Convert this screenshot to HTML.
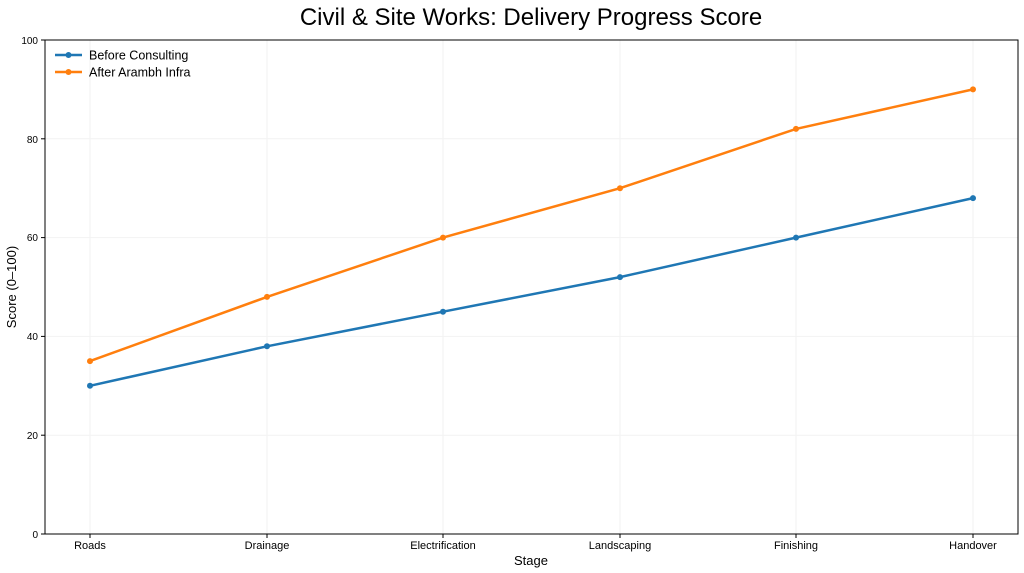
<!DOCTYPE html>
<html><head><meta charset="utf-8"><style>body{margin:0;background:#fff}svg{display:block}text{font-family:"Liberation Sans","DejaVu Sans",sans-serif}</style></head>
<body>
<svg width="1024" height="573" viewBox="0 0 1024 573" xmlns="http://www.w3.org/2000/svg">
<rect width="1024" height="573" fill="#fff"/>
<text x="531" y="25" font-size="24" text-anchor="middle" fill="#000">Civil &amp; Site Works: Delivery Progress Score</text>
<g stroke="#f2f2f2" stroke-width="1">
<line x1="45" x2="1018" y1="435.2" y2="435.2"/><line x1="45" x2="1018" y1="336.4" y2="336.4"/><line x1="45" x2="1018" y1="237.6" y2="237.6"/><line x1="45" x2="1018" y1="138.8" y2="138.8"/>
<line x1="90" x2="90" y1="40" y2="534"/><line x1="267" x2="267" y1="40" y2="534"/><line x1="443" x2="443" y1="40" y2="534"/><line x1="620" x2="620" y1="40" y2="534"/><line x1="796" x2="796" y1="40" y2="534"/><line x1="973" x2="973" y1="40" y2="534"/>
</g>
<rect x="45" y="40" width="973" height="494" fill="none" stroke="#000" stroke-width="1"/>
<g stroke="#000"><line x1="41" x2="45" y1="534" y2="534"/><line x1="41" x2="45" y1="435.2" y2="435.2"/><line x1="41" x2="45" y1="336.4" y2="336.4"/><line x1="41" x2="45" y1="237.6" y2="237.6"/><line x1="41" x2="45" y1="138.8" y2="138.8"/><line x1="41" x2="45" y1="40" y2="40"/>
<line x1="90" x2="90" y1="534" y2="538"/><line x1="267" x2="267" y1="534" y2="538"/><line x1="443" x2="443" y1="534" y2="538"/><line x1="620" x2="620" y1="534" y2="538"/><line x1="796" x2="796" y1="534" y2="538"/><line x1="973" x2="973" y1="534" y2="538"/></g>
<g font-size="10" text-anchor="end" fill="#000"><text x="38" y="538">0</text><text x="38" y="439">20</text><text x="38" y="340">40</text><text x="38" y="241">60</text><text x="38" y="143">80</text><text x="38" y="44">100</text></g>
<g font-size="11" text-anchor="middle" fill="#000"><text x="90" y="549">Roads</text><text x="267" y="549">Drainage</text><text x="443" y="549">Electrification</text><text x="620" y="549">Landscaping</text><text x="796" y="549">Finishing</text><text x="973" y="549">Handover</text></g>
<text x="531" y="565" font-size="13" text-anchor="middle">Stage</text>
<text transform="translate(16,287) rotate(-90)" font-size="13" text-anchor="middle">Score (0–100)</text>
<polyline fill="none" stroke="#1f77b4" stroke-width="2.5" points="90,385.8 267,346.3 443,311.7 620,277.1 796,237.6 973,198.1"/>
<g fill="#1f77b4"><circle cx="90" cy="385.8" r="3"/><circle cx="267" cy="346.3" r="3"/><circle cx="443" cy="311.7" r="3"/><circle cx="620" cy="277.1" r="3"/><circle cx="796" cy="237.6" r="3"/><circle cx="973" cy="198.1" r="3"/></g>
<polyline fill="none" stroke="#ff7f0e" stroke-width="2.5" points="90,361.1 267,296.9 443,237.6 620,188.2 796,128.9 973,89.4"/>
<g fill="#ff7f0e"><circle cx="90" cy="361.1" r="3"/><circle cx="267" cy="296.9" r="3"/><circle cx="443" cy="237.6" r="3"/><circle cx="620" cy="188.2" r="3"/><circle cx="796" cy="128.9" r="3"/><circle cx="973" cy="89.4" r="3"/></g>
<line x1="55" x2="82" y1="55" y2="55" stroke="#1f77b4" stroke-width="2.5"/><circle cx="68.5" cy="55" r="3" fill="#1f77b4"/>
<text x="89" y="59.5" font-size="12.5">Before Consulting</text>
<line x1="55" x2="82" y1="72" y2="72" stroke="#ff7f0e" stroke-width="2.5"/><circle cx="68.5" cy="72" r="3" fill="#ff7f0e"/>
<text x="89" y="76.5" font-size="12.5">After Arambh Infra</text>
</svg>
</body></html>
